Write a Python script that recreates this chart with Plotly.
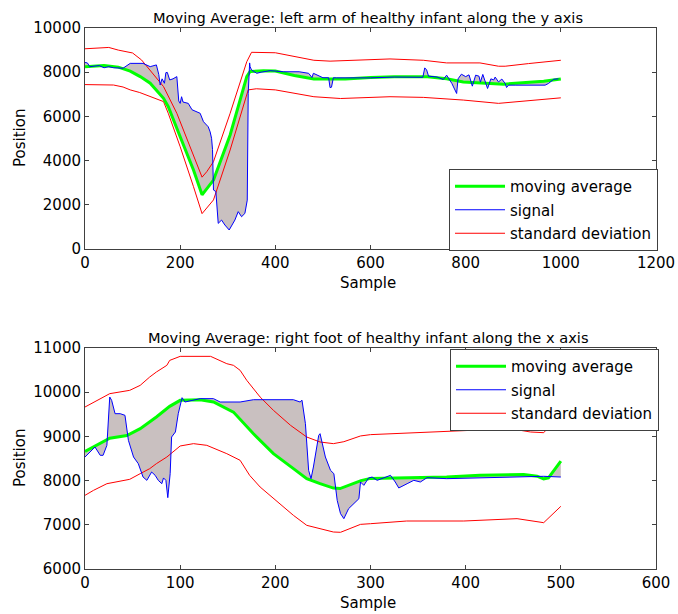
import plotly.graph_objects as go

# ---------------- Top panel: left arm, y axis ----------------
top_ma_x = [0, 20, 40, 70, 95, 116, 137, 165, 175, 200, 228, 246, 256, 270, 305, 340, 347, 375, 400, 440, 481, 547, 600, 650, 720, 760, 795, 880, 964, 1000]
top_ma_y = [8250, 8280, 8300, 8230, 8050, 7800, 7500, 6820, 6440, 5080, 3575, 2450, 2750, 3120, 5160, 7800, 8030, 8070, 8050, 7850, 7690, 7690, 7760, 7790, 7790, 7700, 7560, 7460, 7590, 7690]

top_sig_x = [0, 5, 10, 20, 30, 40, 50, 60, 80, 95, 122, 137, 150, 155, 158, 162, 167, 170, 173, 178, 185, 193, 197, 200, 203, 206, 212, 217, 225, 235, 242, 249, 255, 259, 263, 266, 268, 270, 275, 278, 280, 287, 294, 303, 310, 315, 322, 329, 336, 341, 343, 346, 347, 350, 361, 370, 389, 417, 450, 470, 477, 480, 500, 512, 515, 518, 522, 528, 600, 650, 700, 710, 714, 718, 722, 740, 753, 760, 771, 781, 784, 791, 800, 807, 814, 821, 828, 831, 836, 842, 846, 853, 859, 862, 869, 876, 883, 886, 890, 904, 967, 974, 985, 995]
top_sig_y = [8440, 8420, 8250, 8280, 8300, 8200, 8250, 8200, 8180, 8400, 8400, 8250, 8330, 7900, 7420, 7700, 7500, 7980, 7990, 7650, 7700, 7800, 6700, 6590, 6890, 6650, 6600, 6590, 6300, 6210, 6140, 5760, 5600, 5530, 5300, 5010, 4500, 2670, 2600, 1915, 1160, 1310, 1085, 860, 1100, 1310, 1690, 1460, 1610, 2210, 7045, 8420, 8250, 8100, 7950, 8000, 8070, 8020, 8020, 7950, 7760, 7950, 7750, 7750, 7300, 7320, 7750, 7744, 7744, 7780, 7780, 7770, 8195, 8100, 7820, 7780, 7670, 7865, 7490, 7037, 7700, 7910, 7800, 7880, 7368, 7865, 7820, 7550, 7900, 7500, 7263, 7700, 7650, 7780, 7560, 7690, 7490, 7308, 7414, 7414, 7414, 7490, 7680, 7700]

top_up_x = [0, 30, 50, 70, 85, 100, 119, 137, 165, 193, 221, 246, 256, 270, 305, 340, 350, 400, 481, 515, 641, 711, 760, 830, 869, 883, 932, 1000]
top_up_y = [9060, 9080, 9120, 9000, 8950, 8870, 8550, 8100, 7350, 6140, 4630, 3250, 3500, 3950, 6140, 8475, 8900, 8880, 8540, 8500, 8600, 8540, 8420, 8420, 8270, 8270, 8390, 8540]

top_lo_x = [0, 60, 80, 95, 115, 137, 165, 175, 200, 228, 246, 270, 305, 343, 360, 400, 481, 537, 641, 711, 795, 869, 932, 1000]
top_lo_y = [7440, 7420, 7330, 7200, 7080, 6890, 6670, 6140, 4630, 2820, 1600, 2220, 4480, 7200, 7250, 7200, 6890, 6810, 6890, 6860, 6740, 6590, 6700, 6840]

# ---------------- Bottom panel: right foot, x axis ----------------
bot_ma_x = [0, 16, 26, 44, 58, 75, 89, 100, 121, 135, 156, 177, 198, 219, 233, 247, 261, 268, 290, 300, 380, 415, 461, 475, 482, 487, 500]
bot_ma_y = [8660, 8840, 8960, 9020, 9175, 9440, 9680, 9816, 9830, 9780, 9550, 9060, 8610, 8270, 8045, 7930, 7830, 7820, 8000, 8050, 8080, 8120, 8140, 8100, 8040, 8060, 8440]

bot_sig_x = [0, 5, 10.5, 16, 19, 23, 26, 28, 31.6, 37, 42, 45.6, 51, 56, 61, 65, 70, 73.7, 77, 80.7, 82.5, 85, 87, 89.5, 91, 95, 98, 102, 105, 121, 135, 142, 163, 177, 219, 226, 228, 231.6, 235, 237.5, 240, 245.6, 247, 252.6, 258, 261.5, 265, 268.5, 272, 277, 282.5, 287.8, 289.5, 293, 298, 301.7, 307, 321, 326, 329.7, 338.5, 345.5, 352.4, 359.4, 380, 415, 461, 482, 500]
bot_sig_y = [8534, 8647, 8760, 8572, 8572, 8798, 9891, 9816, 9514, 9514, 9477, 8911, 8534, 8383, 8081, 8006, 8194, 8120, 8006, 7930, 8060, 8006, 7614, 8157, 8986, 9100, 9514, 9876, 9778, 9854, 9854, 9778, 9778, 9830, 9830, 9778, 9820, 9288, 8232, 8044, 8308, 9024, 9062, 8534, 8232, 8157, 7553, 7252, 7139, 7365, 7478, 7590, 7968, 7893, 8060, 8080, 8006, 8119, 7968, 7833, 7930, 8006, 7968, 8066, 8044, 8060, 8081, 8097, 8081]

bot_up_x = [0, 26, 47, 58, 68, 75, 86, 89, 100, 132, 149, 156, 163, 170, 184, 198, 216, 233, 247, 261, 272, 289.5, 300, 338, 398, 447, 468, 482, 489, 500]
bot_up_y = [9665, 9967, 10042, 10155, 10344, 10457, 10608, 10720, 10811, 10811, 10645, 10608, 10495, 10268, 9891, 9590, 9250, 8986, 8873, 8836, 8880, 9010, 9040, 9077, 9122, 9175, 9100, 9084, 9250, 9460]

bot_lo_x = [0, 9, 23, 47, 58, 68, 75, 86, 100, 114, 128, 149, 163, 173, 184, 198, 209, 219, 233, 247, 261, 268.5, 289.5, 300, 338, 398, 433, 454, 482, 500]
bot_lo_y = [7667, 7780, 7930, 8029, 8157, 8270, 8383, 8534, 8783, 8836, 8798, 8609, 8459, 8119, 7855, 7591, 7403, 7214, 6988, 6912, 6837, 6830, 7010, 7025, 7086, 7086, 7116, 7139, 7048, 7418]

titles = ["Moving Average: left arm of healthy infant along the y axis",
          "Moving Average: right foot of healthy infant along the x axis"]
legend_names = ["moving average", "signal", "standard deviation"]

FONT = "DejaVu Sans"
FS = 15
GREEN, BLUE, RED, FILL = "#00ff00", "#0000ff", "#ff0000", "#c9c0c0"

fig = go.Figure()

def add_panel(xa, ya, leg, ma_x, ma_y, sig_x, sig_y, up_x, up_y, lo_x, lo_y):
    # fill between moving average and signal
    fig.add_trace(go.Scatter(x=ma_x, y=ma_y, mode="lines", line=dict(width=0, color=GREEN),
                             showlegend=False, hoverinfo="skip", xaxis=xa, yaxis=ya))
    fig.add_trace(go.Scatter(x=sig_x, y=sig_y, mode="lines", line=dict(width=0, color=BLUE),
                             fill="tonexty", fillcolor=FILL, showlegend=False, hoverinfo="skip",
                             xaxis=xa, yaxis=ya))
    fig.add_trace(go.Scatter(x=up_x, y=up_y, mode="lines", line=dict(width=1, color=RED),
                             name=legend_names[2], legend=leg, legendrank=3, legendgroup="c",
                             xaxis=xa, yaxis=ya))
    fig.add_trace(go.Scatter(x=lo_x, y=lo_y, mode="lines", line=dict(width=1, color=RED),
                             showlegend=False, legend=leg, xaxis=xa, yaxis=ya))
    fig.add_trace(go.Scatter(x=ma_x, y=ma_y, mode="lines", line=dict(width=3, color=GREEN),
                             name=legend_names[0], legend=leg, legendrank=1, legendgroup="a",
                             xaxis=xa, yaxis=ya))
    fig.add_trace(go.Scatter(x=sig_x, y=sig_y, mode="lines", line=dict(width=1, color=BLUE),
                             name=legend_names[1], legend=leg, legendrank=2, legendgroup="b",
                             xaxis=xa, yaxis=ya))

add_panel("x", "y", "legend", top_ma_x, top_ma_y, top_sig_x, top_sig_y, top_up_x, top_up_y, top_lo_x, top_lo_y)
add_panel("x2", "y2", "legend2", bot_ma_x, bot_ma_y, bot_sig_x, bot_sig_y, bot_up_x, bot_up_y, bot_lo_x, bot_lo_y)

W, H = 678, 614

def px(x):
    return x / W

def py(y):
    return 1 - y / H

xdom = [px(85), px(656)]
axis_common = dict(showline=True, linecolor="#404040", linewidth=1, mirror="ticks", ticks="inside",
                   ticklen=4, tickcolor="#404040", showgrid=False, zeroline=False, tickformat="d",
                   tickfont=dict(family=FONT, size=FS, color="black"), automargin=False)

fig.update_layout(
    width=W, height=H, margin=dict(l=0, r=0, t=0, b=0),
    paper_bgcolor="white", plot_bgcolor="white",
    font=dict(family=FONT, size=FS, color="black"),
    xaxis=dict(domain=xdom, range=[0, 1200], tickvals=[0, 200, 400, 600, 800, 1000, 1200], anchor="y",
               **axis_common),
    yaxis=dict(domain=[py(249), py(28)], range=[0, 10000],
               tickvals=[0, 2000, 4000, 6000, 8000, 10000], anchor="x", **axis_common),
    xaxis2=dict(domain=xdom, range=[0, 600], tickvals=[0, 100, 200, 300, 400, 500, 600], anchor="y2",
                **axis_common),
    yaxis2=dict(domain=[py(569), py(348)], range=[6000, 11000],
                tickvals=[6000, 7000, 8000, 9000, 10000, 11000], anchor="x2", **axis_common),
    legend=dict(x=px(658), xanchor="right", y=py(251), yanchor="bottom",
                bgcolor="white", bordercolor="#404040", borderwidth=1,
                font=dict(family=FONT, size=FS), itemwidth=50, tracegroupgap=1,
                traceorder="grouped"),
    legend2=dict(x=px(659), xanchor="right", y=py(349), yanchor="top",
                 bgcolor="white", bordercolor="#404040", borderwidth=1,
                 font=dict(family=FONT, size=FS), itemwidth=50, tracegroupgap=1,
                 traceorder="grouped"),
    showlegend=True,
)

def label(text, x, y, angle=0, size=FS):
    return dict(text=text, x=px(x), y=py(y), xref="paper", yref="paper", xanchor="center",
                yanchor="middle", textangle=angle, showarrow=False, font=dict(family=FONT, size=size))

fig.update_layout(annotations=[
    label(titles[0], 368, 17, size=14.6),
    label(titles[1], 368, 337, size=14.6),
    label("Sample", 368, 283),
    label("Sample", 368, 603),
    label("Position", 20, 138, -90),
    label("Position", 20, 458, -90),
])

# remove the default 8px page margin so the figure fills the window exactly
fig.write_html("out.html", config={"displayModeBar": False},
               post_script="document.body.style.margin='0';document.body.style.overflow='hidden';")
